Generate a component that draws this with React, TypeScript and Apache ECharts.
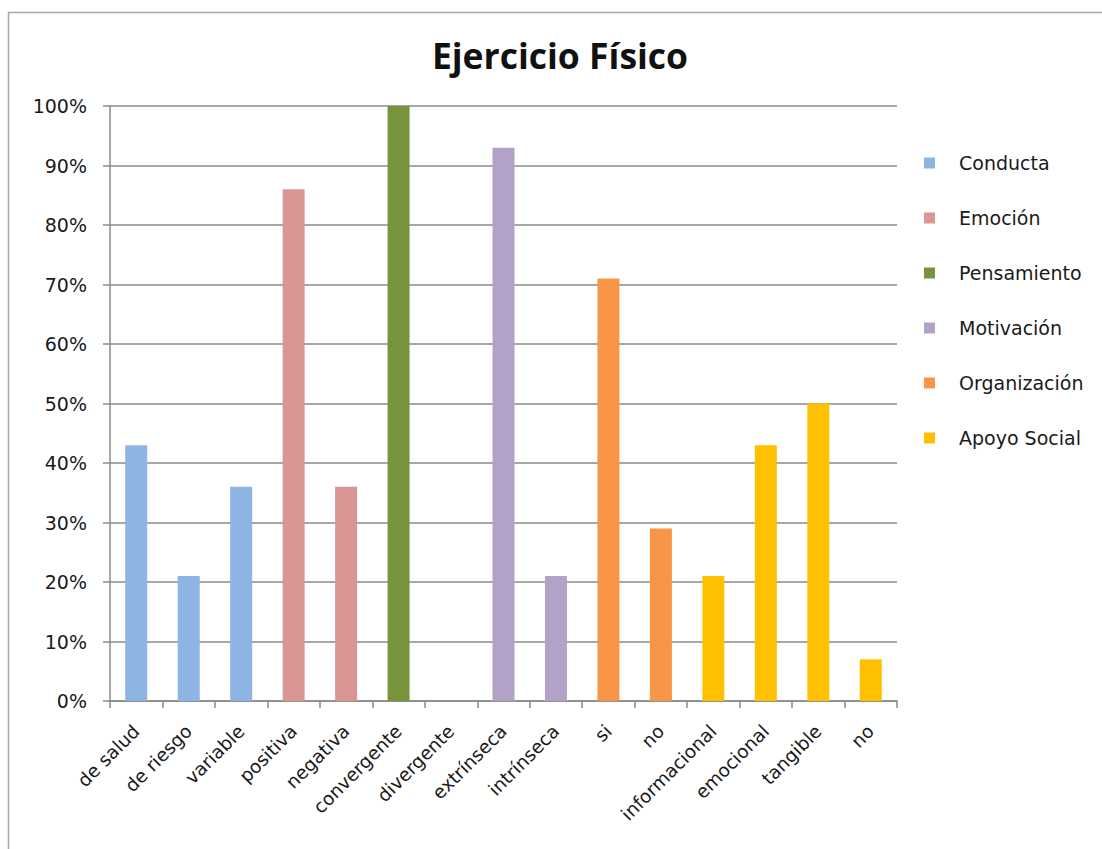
import React, { useEffect, useRef } from "react";
import * as echarts from "echarts";

const titleText = "Ejercicio Físico";
const categories = [
  "de salud", "de riesgo", "variable", "positiva", "negativa", "convergente",
  "divergente", "extrínseca", "intrínseca", "si", "no", "informacional",
  "emocional", "tangible", "no",
];
const seriesNames = ["Conducta", "Emoción", "Pensamiento", "Motivación", "Organización", "Apoyo Social"];
const seriesColors = ["#8EB4E3", "#D99694", "#77933C", "#B3A2C7", "#F79646", "#FFC000"];
// values in %, "-" where a series has no bar
const conducta = [43, 21, 36, "-", "-", "-", "-", "-", "-", "-", "-", "-", "-", "-", "-"];
const emocion = ["-", "-", "-", 86, 36, "-", "-", "-", "-", "-", "-", "-", "-", "-", "-"];
const pensamiento = ["-", "-", "-", "-", "-", 100, 0, "-", "-", "-", "-", "-", "-", "-", "-"];
const motivacion = ["-", "-", "-", "-", "-", "-", "-", 93, 21, "-", "-", "-", "-", "-", "-"];
const organizacion = ["-", "-", "-", "-", "-", "-", "-", "-", "-", 71, 29, "-", "-", "-", "-"];
const apoyoSocial = ["-", "-", "-", "-", "-", "-", "-", "-", "-", "-", "-", 21, 43, 50, 7];
const seriesValues = [conducta, emocion, pensamiento, motivacion, organizacion, apoyoSocial];

const FONT = "DejaVu Sans";
const GRAY = "#8a8a8a";
const TEXT = "#1a1a1a";

export default function App() {
  const ref = useRef<HTMLDivElement>(null);
  useEffect(() => {
    if (!ref.current) return;
    const chart = echarts.init(ref.current, null, { renderer: "svg" });
    chart.setOption({
      animation: false,
      backgroundColor: "#ffffff",
      title: {
        text: titleText,
        left: 555,
        textAlign: "center",
        top: 32,
        textStyle: { fontFamily: "Open Sans", fontWeight: "bold", fontSize: 35.5, color: "#111" },
      },
      graphic: [
        {
          type: "rect",
          shape: { x: 8.5, y: 12.5, width: 1300, height: 1000 },
          style: { fill: "none", stroke: "#a8a8a8", lineWidth: 1.5 },
          silent: true,
          z: -1,
        },
      ],
      legend: {
        orient: "vertical",
        left: 919,
        top: 147,
        itemWidth: 11,
        itemHeight: 11,
        itemGap: 33,
        icon: "rect",
        textStyle: {
          fontFamily: FONT,
          fontSize: 19,
          color: TEXT,
          lineHeight: 22,
          padding: [0, 0, 0, 19],
        },
        data: seriesNames,
      },
      grid: { left: 110, right: 205, top: 106, bottom: 148 },
      xAxis: {
        type: "category",
        data: categories,
        boundaryGap: true,
        axisLine: { lineStyle: { color: GRAY, width: 1.5 } },
        axisTick: { show: true, length: 7, lineStyle: { color: GRAY, width: 1.5 } },
        axisLabel: {
          interval: 0,
          rotate: 45,
          margin: 27,
          fontFamily: FONT,
          fontSize: 18.5,
          color: TEXT,
        },
      },
      yAxis: {
        type: "value",
        min: 0,
        max: 100,
        interval: 10,
        axisLine: { show: true, lineStyle: { color: GRAY, width: 1.5 } },
        axisTick: { show: true, length: 7, lineStyle: { color: GRAY, width: 1.5 } },
        axisLabel: {
          formatter: "{value}%",
          margin: 23,
          fontFamily: FONT,
          fontSize: 19,
          color: TEXT,
        },
        splitLine: { show: true, lineStyle: { color: GRAY, width: 1.5 } },
      },
      series: seriesNames.map((name, i) => ({
        name,
        type: "bar",
        stack: "all",
        barWidth: 22,
        itemStyle: { color: seriesColors[i] },
        data: seriesValues[i],
      })),
    });
    return () => chart.dispose();
  }, []);
  return (
    <div
      ref={ref}
      style={{ position: "absolute", left: 0, top: 0, width: 1102, height: 849 }}
    />
  );
}
